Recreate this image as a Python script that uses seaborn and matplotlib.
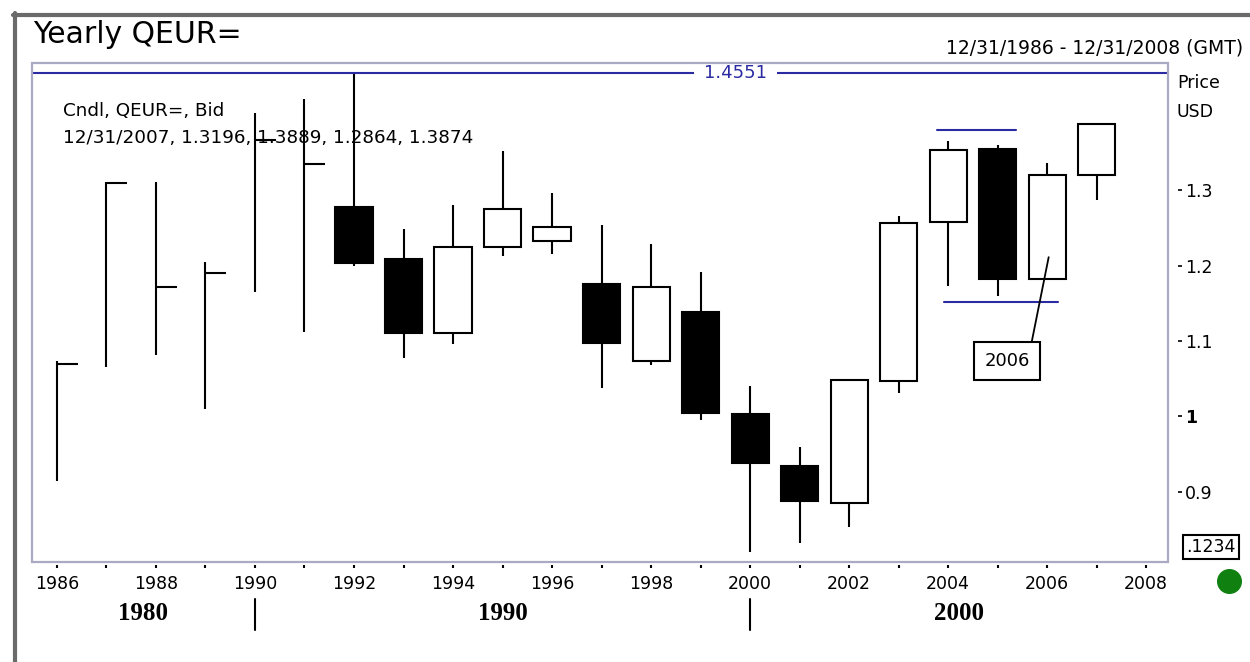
import numpy as np
import matplotlib
matplotlib.use("Agg")
import matplotlib.pyplot as plt
import matplotlib.transforms as mtransforms
from matplotlib.patches import Rectangle
from matplotlib.lines import Line2D
import seaborn as sns

# yearly bid candles, 1986-1991 only have high/low/close
years = list(range(1986, 2008))
opens = [np.nan, np.nan, np.nan, np.nan, np.nan, np.nan,
         1.278, 1.209, 1.111, 1.224, 1.232, 1.175, 1.073, 1.138,
         1.003, 0.935, 0.886, 1.047, 1.258, 1.354, 1.182, 1.3196]
highs = [1.074, 1.311, 1.310, 1.204, 1.402, 1.421,
         1.4551, 1.249, 1.280, 1.352, 1.296, 1.254, 1.228, 1.191,
         1.040, 0.959, 1.048, 1.265, 1.365, 1.359, 1.336, 1.3889]
lows = [0.914, 1.066, 1.081, 1.010, 1.165, 1.112,
        1.199, 1.078, 1.096, 1.212, 1.215, 1.038, 1.068, 0.996,
        0.820, 0.833, 0.854, 1.031, 1.173, 1.160, 1.181, 1.2864]
closes = [1.070, 1.309, 1.171, 1.190, 1.366, 1.335,
          1.203, 1.110, 1.225, 1.275, 1.251, 1.097, 1.172, 1.004,
          0.938, 0.888, 1.048, 1.256, 1.353, 1.182, 1.3196, 1.3874]

max_high = 1.4551
resist_x = [2003.78, 2005.37]
resist_y = [1.380, 1.380]
support_x = [2003.92, 2006.21]
support_y = [1.152, 1.152]

x_ticks = list(range(1986, 2009, 2))
y_ticks = [0.9, 1.0, 1.1, 1.2, 1.3]
y_labels = ["0.9", "1", "1.1", "1.2", "1.3"]
decades = [1980, 1990, 2000, 2010]

blue = "#2a2aa2"
frame_col = "#a9a9c4"

sns.set_style("white")
plt.rcParams["font.family"] = ["DejaVu Sans"]
plt.rcParams.update({"text.color": "black", "xtick.color": "black",
                     "ytick.color": "black", "axes.labelcolor": "black"})

fig = plt.figure(figsize=(12.5, 6.62), dpi=100)
ax = fig.add_axes([0.0256, 0.1511, 0.9088, 0.7537])
xlim = (1985.497, 2008.44)
ax.set_xlim(*xlim)
ax.set_ylim(0.8073, 1.4682)

# candles
for yr, o, h, l, c in zip(years, opens, highs, lows, closes):
    ax.vlines(yr, l, h, color="black", lw=1.5, zorder=2)
    if np.isnan(o):
        ax.hlines(c, yr, yr + 0.42, color="black", lw=1.5, zorder=2)
    else:
        face = "black" if c < o else "white"
        ax.bar(yr, abs(c - o), bottom=min(o, c), width=0.75, color=face,
               edgecolor="black", linewidth=1.5, zorder=3)

# max line with label
ax.axhline(max_high, color=blue, lw=1.5, zorder=4)
ax.text(1999.70, max_high, f"{max_high:.4f}", color=blue, fontsize=13,
        ha="center", va="center", zorder=5,
        bbox=dict(boxstyle="square,pad=0.55", fc="white", ec="none"))

sns.lineplot(x=resist_x, y=resist_y, ax=ax, color=blue, lw=1.5, zorder=4)
sns.lineplot(x=support_x, y=support_y, ax=ax, color=blue, lw=1.5, zorder=4)

ax.annotate("2006", xy=(2006.03, 1.211), xytext=(2005.19, 1.074),
            ha="center", va="center", fontsize=13, zorder=6,
            bbox=dict(boxstyle="square,pad=0.55", fc="white", ec="black", lw=1.5),
            arrowprops=dict(arrowstyle="-", color="black", lw=1.3,
                            relpos=(1, 1), shrinkA=0, shrinkB=0))

# axes frame and ticks
for s in ax.spines.values():
    s.set_visible(False)
ax.spines["right"].set_position(("outward", 7.2))
ax.spines["bottom"].set_position(("outward", 2.2))
ax.add_patch(Rectangle((0, 0), 1, 1, transform=ax.transAxes, fill=False,
                       ec=frame_col, lw=1.6, zorder=10, clip_on=False))

ax.set_xticks(x_ticks)
ax.set_xticks(range(1987, 2008, 2), minor=True)
ax.tick_params(axis="x", which="both", direction="out", length=2.5, width=1.5,
               color="black", labelcolor="black", pad=5, labelsize=12.5,
               bottom=True)
ax.yaxis.tick_right()
ax.set_yticks(y_ticks)
ax.set_yticklabels(y_labels)
ax.tick_params(axis="y", direction="out", length=3, width=1.2, color="black",
               labelcolor="black", pad=2, labelsize=12.5, right=True, left=False)
ax.get_yticklabels()[1].set_fontweight("bold")
ax.grid(False)

# decade row
trans = mtransforms.blended_transform_factory(ax.transData, ax.transAxes)
for d in decades[1:-1]:
    ax.plot([d, d], [-0.074, -0.136], color="black", lw=1.5,
            transform=trans, clip_on=False)
for lo, hi in zip(decades[:-1], decades[1:]):
    a, b = max(lo, xlim[0]), min(hi, xlim[1])
    ax.text((a + b) / 2, -0.104, str(lo), transform=trans, ha="center",
            va="center", fontsize=18, fontweight="bold",
            family=["Liberation Serif"])

# header and info texts
fig.text(0.0264, 1 - 43 / 662, "Yearly QEUR=", fontsize=21.5, va="baseline")
fig.text(1243 / 1250, 1 - 53 / 662, "12/31/1986 - 12/31/2008 (GMT)",
         fontsize=13.5, ha="right", va="baseline")
fig.text(63 / 1250, 1 - 116 / 662, "Cndl, QEUR=, Bid", fontsize=13.2,
         va="baseline")
fig.text(63 / 1250, 1 - 143 / 662,
         f"12/31/2007, {opens[-1]:.4f}, {highs[-1]:.4f}, {lows[-1]:.4f}, {closes[-1]:.4f}",
         fontsize=13.2, va="baseline")
fig.text(1177 / 1250, 1 - 83 / 662, "Price", fontsize=12.5, va="center")
fig.text(1177 / 1250, 1 - 112 / 662, "USD", fontsize=12.5, va="center")
fig.text(1211 / 1250, 1 - 547 / 662, ".1234", fontsize=12.5, ha="center",
         va="center", bbox=dict(boxstyle="square,pad=0.2", fc="white",
                                ec="black", lw=1.5))
ax.plot([1229 / 1250], [1 - 581 / 662], "o", color="#108010", ms=17,
        transform=fig.transFigure, clip_on=False)

# window border
fig.add_artist(Line2D([15 / 1250, 15 / 1250], [0, 1 - 13 / 662],
                      color="#6a6a6a", lw=3))
fig.add_artist(Line2D([13 / 1250, 1], [1 - 15 / 662, 1 - 15 / 662],
                      color="#6a6a6a", lw=3))

fig.savefig("out.png", dpi=100)
